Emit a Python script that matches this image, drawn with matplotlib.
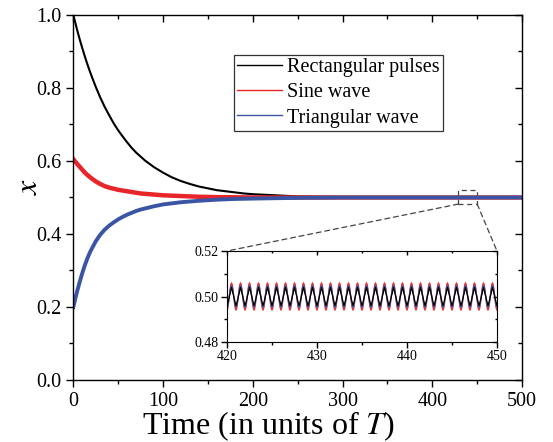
import numpy as np
import matplotlib
matplotlib.use("Agg")
import matplotlib.pyplot as plt
from matplotlib.patches import Rectangle, ConnectionPatch

plt.rcParams['font.family'] = ['Liberation Serif', 'DejaVu Serif']
plt.rcParams['mathtext.fontset'] = 'stix'
SERIF = 'Liberation Serif'

# mean value of x at selected times
t = [0, 2.5, 5, 7.5, 10, 12.5, 15, 17.5, 20, 25, 30, 35, 40, 45, 50, 55,
     60, 65, 70, 75, 80, 90, 100, 110, 120, 130, 140, 150, 160, 170, 180,
     190, 200, 225, 250, 275, 300, 350, 400, 450, 500]
x_rect = [1.000, 0.976, 0.952, 0.930, 0.909, 0.889, 0.870, 0.852, 0.835,
          0.803, 0.774, 0.748, 0.725, 0.703, 0.684, 0.667, 0.651, 0.636,
          0.623, 0.612, 0.601, 0.583, 0.568, 0.555, 0.545, 0.537, 0.530,
          0.525, 0.520, 0.517, 0.514, 0.511, 0.509, 0.506, 0.503, 0.502,
          0.501, 0.500, 0.500, 0.500, 0.500]
x_sine = [0.605, 0.597, 0.590, 0.583, 0.576, 0.569, 0.563, 0.558, 0.553,
          0.544, 0.537, 0.531, 0.527, 0.524, 0.521, 0.519, 0.517, 0.515,
          0.513, 0.511, 0.510, 0.508, 0.506, 0.505, 0.504, 0.503, 0.502,
          0.5015, 0.501, 0.5007, 0.5005, 0.5003, 0.500, 0.500, 0.500,
          0.500, 0.500, 0.500, 0.500, 0.500, 0.500]
x_tri = [0.200, 0.226, 0.250, 0.272, 0.293, 0.312, 0.329, 0.344, 0.357,
         0.380, 0.398, 0.412, 0.423, 0.432, 0.440, 0.447, 0.453, 0.458,
         0.463, 0.467, 0.470, 0.476, 0.481, 0.484, 0.487, 0.489, 0.491,
         0.4925, 0.494, 0.495, 0.496, 0.4965, 0.497, 0.498, 0.499, 0.4995,
         0.500, 0.500, 0.500, 0.500, 0.500]

# one period (12 samples, starting at integer t) of the steady state, inset
period_rect = [0.4960, 0.4971, 0.4984, 0.4997, 0.5011, 0.5025, 0.5040,
               0.5027, 0.5013, 0.5000, 0.4986, 0.4972]
period_sine = [0.4940, 0.4948, 0.4970, 0.5000, 0.5030, 0.5052, 0.5060,
               0.5052, 0.5030, 0.5000, 0.4970, 0.4948]
period_tri = [0.4952, 0.4958, 0.4976, 0.5000, 0.5024, 0.5042, 0.5048,
              0.5042, 0.5024, 0.5000, 0.4976, 0.4958]
n_periods = 30
t_start = 420

labels = ['Rectangular pulses', 'Sine wave', 'Triangular wave']
colors = ['black', '#e8262a', '#3a55a4']


def mirror_ticks(ax, xmaj, xmin, ymaj, ymin, length):
    top = ax.secondary_xaxis('top')
    top.set_xticks(xmaj)
    top.set_xticks(xmin, minor=True)
    top.tick_params(which='both', direction='in', labeltop=False, width=1)
    top.tick_params(which='major', length=length)
    top.tick_params(which='minor', length=length * 0.6)
    right = ax.secondary_yaxis('right')
    right.set_yticks(ymaj)
    right.set_yticks(ymin, minor=True)
    right.tick_params(which='both', direction='in', labelright=False, width=1)
    right.tick_params(which='major', length=length)
    right.tick_params(which='minor', length=length * 0.6)
    for s in ('top', 'right'):
        top.spines[s].set_visible(False)
        right.spines[s].set_visible(False)


def set_ticklabels(ax, xlabels, ylabels, size):
    ax.set_xticklabels(xlabels, fontfamily=SERIF, fontsize=size)
    ax.set_yticklabels(ylabels, fontfamily=SERIF, fontsize=size)


fig = plt.figure(figsize=(5.53, 4.42), dpi=100)
ax = fig.add_axes([0.1326, 0.1403, 0.8114, 0.8258])

ax.plot(t, x_rect, color=colors[0], lw=1.5, label=labels[0])
ax.plot(t, x_sine, color=colors[1], lw=3.2, label=labels[1])
ax.plot(t, x_tri, color=colors[2], lw=2.8, label=labels[2])

ax.set_xlim(0, 500)
ax.set_ylim(0, 1)
xmaj = [0, 100, 200, 300, 400, 500]
xmin = [50, 150, 250, 350, 450]
ymaj = [0.0, 0.2, 0.4, 0.6, 0.8, 1.0]
ymin = [0.1, 0.3, 0.5, 0.7, 0.9]
ax.set_xticks(xmaj)
ax.set_xticks(xmin, minor=True)
ax.set_yticks(ymaj)
ax.set_yticks(ymin, minor=True)
set_ticklabels(ax, [str(v) for v in xmaj], ['%.1f' % v for v in ymaj], 14.5)
ax.tick_params(which='both', direction='out', width=1)
ax.tick_params(which='major', length=5)
ax.tick_params(which='minor', length=3)
mirror_ticks(ax, xmaj, xmin, ymaj, ymin, 5)
for sp in ax.spines.values():
    sp.set_linewidth(1.0)

ax.set_xlabel('Time (in units of $T$)', fontsize=23)
ax.xaxis.set_label_coords(0.434, -0.08)
ax.set_ylabel('$x$', fontsize=23)
ax.yaxis.set_label_coords(-0.066, 0.53)

leg = ax.legend(loc='upper right', bbox_to_anchor=(0.824, 0.890),
                borderaxespad=0, fontsize=14.5, frameon=True, fancybox=False,
                handlelength=2.25, handletextpad=0.25, borderpad=0.15,
                labelspacing=0.3)
leg.get_frame().set_edgecolor('black')
leg.get_frame().set_linewidth(0.9)
for line in leg.get_lines():
    line.set_linewidth(1.0)

# dashed zoom box
ax.add_patch(Rectangle((429, 0.482), 21, 0.0385, fill=False,
                       ls=(0, (4, 3)), lw=0.9, ec='#444444'))

# inset
axin = fig.add_axes([0.4105, 0.2262, 0.4882, 0.2059])
t_in = t_start + np.arange(n_periods * 12 + 1) / 12
for per, c in [(period_sine, colors[1]), (period_tri, colors[2]),
               (period_rect, colors[0])]:
    vals = np.tile(per, n_periods + 1)[:len(t_in)]
    axin.plot(t_in, vals, color=c, lw=0.9)
axin.set_xlim(420, 450)
axin.set_ylim(0.48, 0.52)
ixmaj = [420, 430, 440, 450]
ixmin = [425, 435, 445]
iymaj = [0.48, 0.50, 0.52]
iymin = [0.49, 0.51]
axin.set_xticks(ixmaj)
axin.set_xticks(ixmin, minor=True)
axin.set_yticks(iymaj)
axin.set_yticks(iymin, minor=True)
set_ticklabels(axin, [str(v) for v in ixmaj], ['%.2f' % v for v in iymaj], 10)
axin.tick_params(which='both', direction='out', width=1, pad=2)
axin.tick_params(which='major', length=4)
axin.tick_params(which='minor', length=2.5)
mirror_ticks(axin, ixmaj, ixmin, iymaj, iymin, 3)

for xa, xb in [((429, 0.482), (0, 1)), ((450, 0.482), (1, 1))]:
    con = ConnectionPatch(xyA=xa, coordsA=ax.transData, xyB=xb,
                          coordsB=axin.transAxes, ls=(0, (4, 3)), lw=0.9,
                          color='#444444')
    fig.add_artist(con)

fig.savefig('out.png', dpi=100)
